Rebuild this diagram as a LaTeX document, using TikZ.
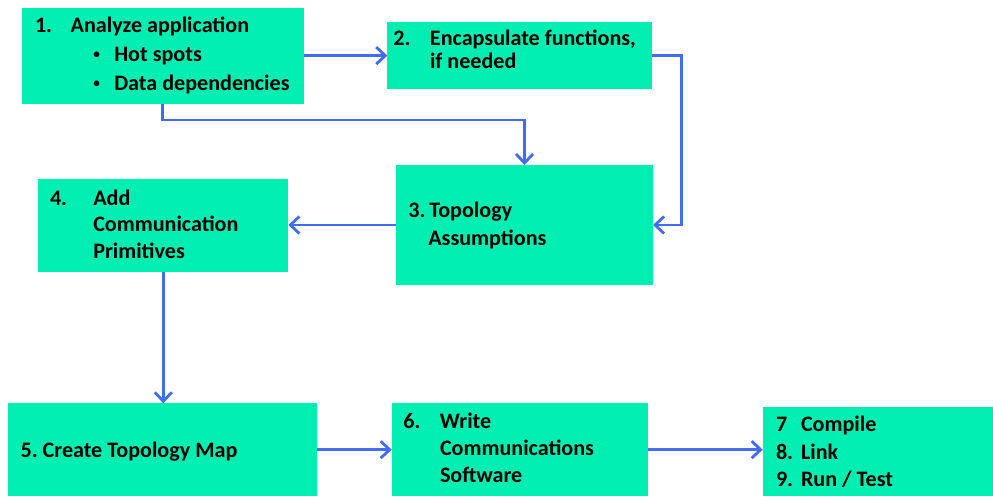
\documentclass[tikz,border=0pt]{standalone}
\usepackage{fontspec}
\setmainfont{Carlito}
\usetikzlibrary{arrows.meta}

\definecolor{stagefill}{RGB}{0,238,178}
\definecolor{flowblue}{RGB}{64,108,246}

\tikzset{
  stage/.style={fill=stagefill, draw=none, inner sep=0pt, outer sep=0pt,
    anchor=north west},
  stagetext/.style={anchor=base west, inner sep=0pt, outer sep=0pt,
    font=\fontsize{22.1}{#1}\selectfont\bfseries},
  flow/.style={draw=flowblue, line width=2.8pt,
    -{Straight Barb[length=9pt,width=17pt,line width=2.8pt]}}
}

% one left-aligned block whose baseline is that of its first line
\newcommand{\stagelines}[1]{\begin{tabular}[t]{@{}l@{}}#1\end{tabular}}
% small list bullet
\newcommand{\stagebullet}{\raisebox{0.12em}{\scalebox{0.6}{•}}}

\begin{document}
\begin{tikzpicture}[x=1pt, y=-1pt]
  \useasboundingbox (0,0) rectangle (993,496);

  % stage boxes
  \node[stage, minimum width=281.7pt, minimum height=96.2pt] (s1) at (22,7.5) {};
  \node[stage, minimum width=265pt,   minimum height=67.3pt] (s2) at (387.3,21.7) {};
  \node[stage, minimum width=257pt,   minimum height=120pt]  (s3) at (396,165) {};
  \node[stage, minimum width=250pt,   minimum height=92.7pt] (s4) at (38.3,179.3) {};
  \node[stage, minimum width=308.7pt, minimum height=92.7pt] (s5) at (8,403.3) {};
  \node[stage, minimum width=256pt,   minimum height=92.7pt] (s6) at (391.7,403.3) {};
  \node[stage, minimum width=230.3pt, minimum height=89.3pt] (s7) at (762.7,406.7) {};

  % stage texts
  \node[stagetext=29] (t1) at (35,32.3) {\stagelines{%
    \makebox[35.7pt][l]{1.}Analyze application\\
    \hspace*{58.3pt}\makebox[21pt][l]{\stagebullet}Hot spots\\
    \hspace*{58.3pt}\makebox[21pt][l]{\stagebullet}Data dependencies}};
  \node[stagetext=23.3] (t2) at (393.3,45) {\stagelines{%
    \makebox[36.7pt][l]{2.}Encapsulate functions,\\
    \hspace*{36.7pt}if needed}};
  \node[stagetext=27.7] (t3) at (408.3,217.3) {\stagelines{%
    \makebox[21pt][l]{3.}Topology\\
    \hspace*{20pt}Assumptions}};
  \node[stagetext=26.7] (t4) at (50,205) {\stagelines{%
    \makebox[43.3pt][l]{4.}Add\\
    \hspace*{43.3pt}Communication\\
    \hspace*{43.3pt}Primitives}};
  \node[stagetext=27] (t5) at (20.7,457) {\stagelines{%
    \makebox[22pt][l]{5.}Create Topology Map}};
  \node[stagetext=27.3] (t6) at (403.3,428.3) {\stagelines{%
    \makebox[36.7pt][l]{6.}Write\\
    \hspace*{36.7pt}Communications\\
    \hspace*{36.7pt}Software}};
  \node[stagetext=27.5] (t7) at (776,431.7) {\stagelines{%
    \makebox[25pt][l]{7}Compile\\
    \makebox[25pt][l]{8.}Link\\
    \makebox[25pt][l]{9.}Run / Test}};

  % connectors
  \draw[flow] (s1.east) -- (s1.east -| s2.west);
  \draw[flow] (s1.south) -- ++(0,16.3) -| (s3.north);
  \draw[flow] (s2.east) -- ++(29,0) |- (s3.east);
  \draw[flow] (s3.west) -- (s3.west -| s4.east);
  \draw[flow] (s4.south) -- (s4.south |- s5.north);
  \draw[flow] (s5.east) -- (s5.east -| s6.west);
  \draw[flow] (s6.east) -- (s6.east -| s7.west);
\end{tikzpicture}
\end{document}
